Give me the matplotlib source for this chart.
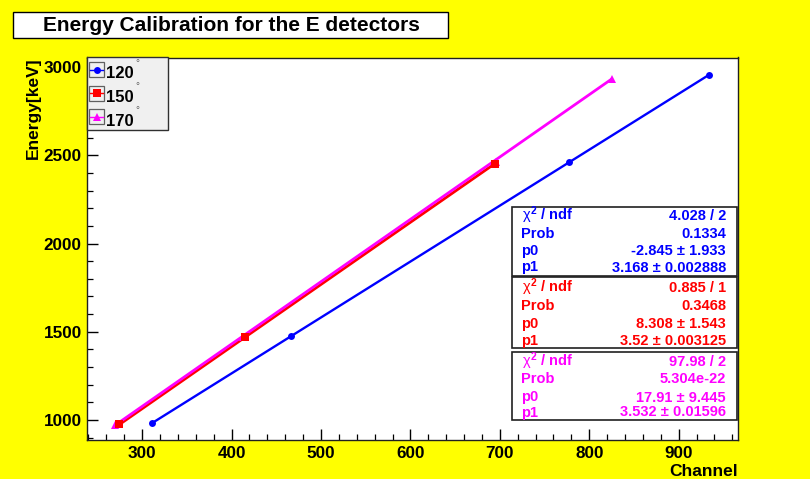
import matplotlib
matplotlib.use("Agg")
import matplotlib.pyplot as plt
from matplotlib.patches import Rectangle
from matplotlib.lines import Line2D
import numpy as np

# ---------------- data ----------------
title = "Energy Calibration for the E detectors"
xlabel = "Channel"
ylabel = "Energy[keV]"
labels = ["120", "150", "170"]
colors = ["#0000ff", "#ff0000", "#ff00ff"]
markers = ["o", "s", "^"]

ch_120 = [311.5, 466.5, 777.5, 934.0]
en_120 = [984, 1477, 2461, 2956]
ch_150 = [274.6, 415.0, 694.4]
en_150 = [975, 1469, 2452]
ch_170 = [270.2, 413.0, 696.0, 825.5]
en_170 = [972, 1473, 2462, 2934]

# fit parameters (p0, p1) per series
fit_p0 = [-2.845, 8.308, 17.91]
fit_p1 = [3.168, 3.52, 3.532]
stat_rows = [
    [(r"$\chi^{2}$ / ndf", "4.028 / 2"), ("Prob", "0.1334"),
     ("p0", "-2.845 ± 1.933"), ("p1", "3.168 ± 0.002888")],
    [(r"$\chi^{2}$ / ndf", "0.885 / 1"), ("Prob", "0.3468"),
     ("p0", "8.308 ± 1.543"), ("p1", "3.52 ± 0.003125")],
    [(r"$\chi^{2}$ / ndf", "97.98 / 2"), ("Prob", "5.304e-22"),
     ("p0", "17.91 ± 9.445"), ("p1", "3.532 ± 0.01596")],
]

xlim = (238, 966)
ylim = (887, 3054)
xticks = [300, 400, 500, 600, 700, 800, 900]
yticks = [1000, 1500, 2000, 2500, 3000]

# ---------------- figure ----------------
W, H = 810, 479
plt.rcParams['font.family'] = ['Liberation Sans', 'DejaVu Sans']
plt.rcParams['mathtext.fontset'] = 'custom'
plt.rcParams['mathtext.rm'] = 'Liberation Sans:bold'
plt.rcParams['mathtext.it'] = 'Liberation Sans'
fig = plt.figure(figsize=(W / 100, H / 100), dpi=100, facecolor="#ffff00")


def fx(x):
    return x / W


def fy(y):
    return 1 - y / H


L, R, T, B = 86.7, 737.7, 57.5, 440.0
ax = fig.add_axes([fx(L), fy(B), fx(R) - fx(L), fy(T) - fy(B)])
ax.set_facecolor("white")

series = [(ch_120, en_120), (ch_150, en_150), (ch_170, en_170)]
order = [0, 2, 1]
for i in order:
    xs, ys = series[i]
    xx = np.array([min(xs), max(xs)])
    ax.plot(xx, fit_p0[i] + fit_p1[i] * xx, color=colors[i],
            lw=1.7 if i == 0 else 2.0, zorder=3 + i, solid_capstyle='butt')
    ax.plot(xs, ys, linestyle='none', marker=markers[i], color=colors[i],
            markersize=5 if i == 0 else 5.5, zorder=6, markeredgewidth=0)

ax.set_xlim(*xlim)
ax.set_ylim(*ylim)
ax.set_xticks(xticks)
ax.set_yticks(yticks)
ax.set_xticks(np.arange(240, 966, 20), minor=True)
ax.set_yticks(np.arange(900, 3054, 100), minor=True)
ax.tick_params(which='both', direction='in', top=False, right=False,
               colors='black')
ax.tick_params(which='major', length=8, width=1.0)
ax.tick_params(which='minor', length=4.3, width=0.9)
ax.tick_params(axis='x', which='major', pad=4.0)
ax.tick_params(axis='y', which='major', pad=3.5)
for lab in ax.get_xticklabels() + ax.get_yticklabels():
    lab.set_fontweight('bold')
    lab.set_fontsize(12.3)
for s in ax.spines.values():
    s.set_color('#202020')
    s.set_linewidth(1.0)

# axis titles
fig.text(fx(738), fy(471.5), xlabel, ha='right', va='center',
         fontsize=12.5, fontweight='bold')
fig.text(fx(33), fy(57.5), ylabel, ha='center', va='top', rotation=90,
         fontsize=12.5, fontweight='bold')

# title box
fig.patches.append(Rectangle((fx(13), fy(38.3)), fx(448) - fx(13),
                             fy(12.3) - fy(38.3), transform=fig.transFigure,
                             facecolor='white', edgecolor='black', lw=1.0))
fig.text(fx(231), fy(25.5), title, ha='center', va='center',
         fontsize=15, fontweight='bold')

# legend
fig.patches.append(Rectangle((fx(87), fy(130)), fx(168) - fx(87),
                             fy(57) - fy(130), transform=fig.transFigure,
                             facecolor='#f0f0f0', edgecolor='#303030', lw=1.0,
                             zorder=10))
leg_y = [69.5, 93.3, 117.0]
deg_y = [63, 86.5, 110.3]
for i in range(3):
    yc = leg_y[i]
    fig.patches.append(Rectangle((fx(89), fy(yc + 7.5)), fx(104) - fx(89),
                                 fy(yc - 7.5) - fy(yc + 7.5),
                                 transform=fig.transFigure,
                                 facecolor='#f0f0f0', edgecolor='#606060',
                                 lw=0.9, zorder=11))
    fig.lines.append(Line2D([fx(89.5), fx(103.5)], [fy(yc), fy(yc)],
                            transform=fig.transFigure, color=colors[i],
                            lw=1.0, zorder=12))
    fig.lines.append(Line2D([fx(96.5)], [fy(yc)], transform=fig.transFigure,
                            color=colors[i], marker=markers[i],
                            markersize=5 if i == 0 else 6,
                            markeredgewidth=0, linestyle='none', zorder=13))
    fig.text(fx(106), fy(yc + 4), labels[i], ha='left', va='center',
             fontsize=12, fontweight='bold', zorder=12)
    fig.text(fx(137), fy(deg_y[i]), "°", ha='center', va='center',
             fontsize=7, color='#606060', zorder=12)

# stat boxes
box_tb = [(206.7, 276.0), (277.3, 348.0), (351.7, 420.0)]
row_y = [[215.0, 233.0, 250.0, 266.7],
         [287.3, 305.0, 323.3, 340.0],
         [360.7, 378.3, 396.7, 411.7]]
for i in range(3):
    top, bot = box_tb[i]
    fig.patches.append(Rectangle((fx(511.7), fy(bot)), fx(737.3) - fx(511.7),
                                 fy(top) - fy(bot), transform=fig.transFigure,
                                 facecolor='white', edgecolor='#202020',
                                 lw=1.2, zorder=10))
    for (lt, rt), yy in zip(stat_rows[i], row_y[i]):
        fig.text(fx(521.5), fy(yy + 4.8), lt, ha='left', va='baseline',
                 fontsize=10.5, fontweight='bold', color=colors[i], zorder=12)
        fig.text(fx(726), fy(yy + 4.8), rt, ha='right', va='baseline',
                 fontsize=10.5, fontweight='bold', color=colors[i], zorder=12)

fig.savefig("out.png", dpi=100, facecolor=fig.get_facecolor())
